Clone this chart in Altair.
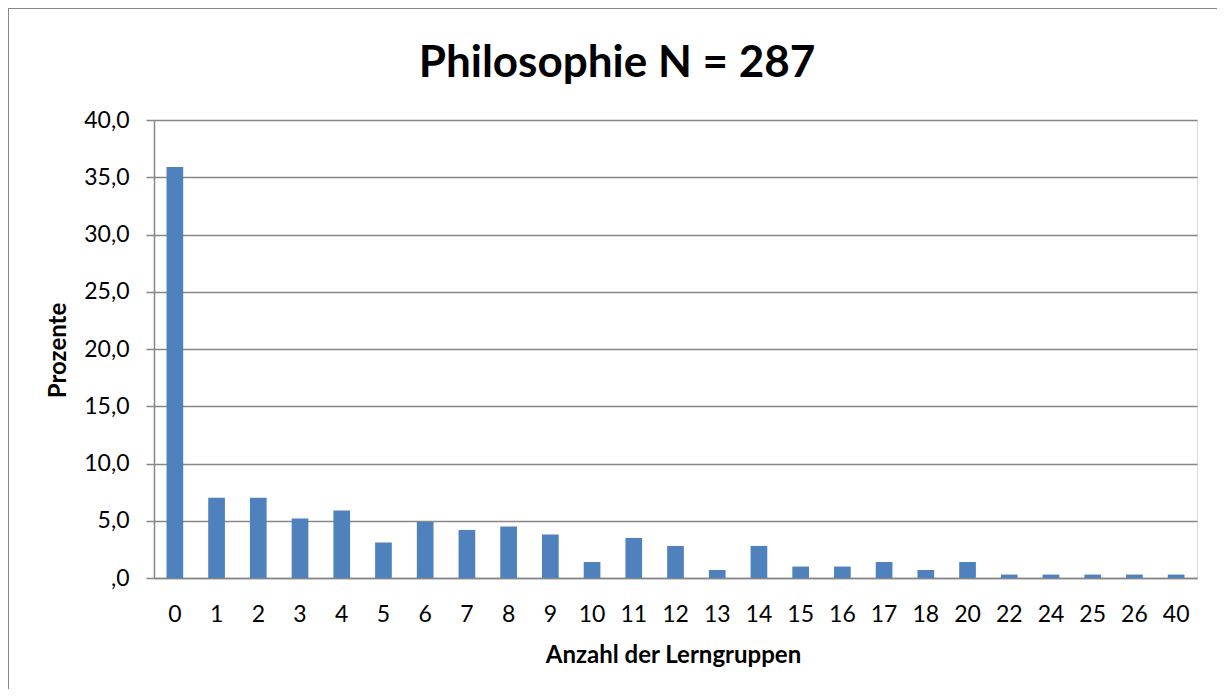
import altair as alt
import pandas as pd

categories = ["0", "1", "2", "3", "4", "5", "6", "7", "8", "9", "10", "11", "12",
              "13", "14", "15", "16", "17", "18", "20", "22", "24", "25", "26", "40"]
percent = [35.9, 7.0, 7.0, 5.2, 5.9, 3.1, 4.9, 4.2, 4.5, 3.8, 1.4, 3.5, 2.8,
           0.7, 2.8, 1.0, 1.0, 1.4, 0.7, 1.4, 0.3, 0.3, 0.3, 0.3, 0.3]
title_text = "Philosophie N = 287"
x_title = "Anzahl der Lerngruppen"
y_title = "Prozente"

df = pd.DataFrame({"k": categories, "p": percent})

FONT = "Lato"
GRAY = "#878787"
W, H = 1043, 458

bars = alt.Chart(df).mark_bar(color="#4F81BD").encode(
    x=alt.X("k:N", sort=categories,
            scale=alt.Scale(paddingInner=0.6, paddingOuter=0.3),
            axis=alt.Axis(title=x_title, labelAngle=0, ticks=False, grid=False,
                          domainColor=GRAY, domainWidth=1.5,
                          labelFont=FONT, labelFontSize=23, labelColor="#000",
                          labelPadding=25,
                          titleFont=FONT, titleFontSize=24, titleFontWeight="bold",
                          titleColor="#000", titleX=519, titleY=84,
                          titleAnchor="middle", titleAlign="center",
                          titleBaseline="alphabetic")),
    y=alt.Y("p:Q", scale=alt.Scale(domain=[0, 40], nice=False),
            axis=alt.Axis(title=y_title, values=[0, 5, 10, 15, 20, 25, 30, 35, 40],
                          labelExpr="datum.value == 0 ? ',0' : replace(format(datum.value, '.1f'), '.', ',')",
                          grid=True, gridColor=GRAY, gridWidth=1.5,
                          domainColor=GRAY, domainWidth=1.5,
                          tickColor=GRAY, tickWidth=1.5, tickSize=8,
                          labelFont=FONT, labelFontSize=23, labelColor="#000",
                          labelPadding=17,
                          titleFont=FONT, titleFontSize=24, titleFontWeight="bold",
                          titleColor="#000", titleX=-96, titleY=230,
                          titleAngle=270, titleAlign="center",
                          titleBaseline="middle")),
)

title = alt.Chart(alt.Data(values=[{"t": title_text}])).mark_text(
    font=FONT, fontSize=44, fontWeight="bold", color="#000",
    align="center", baseline="alphabetic"
).encode(text="t:N", x=alt.value(463), y=alt.value(-43))

left_border = alt.Chart(alt.Data(values=[{}])).mark_rule(
    color=GRAY, strokeWidth=2
).encode(x=alt.value(-146), y=alt.value(-112), y2=alt.value(H + 111))

top_border = alt.Chart(alt.Data(values=[{}])).mark_rule(
    color=GRAY, strokeWidth=2
).encode(y=alt.value(-112), x=alt.value(-146), x2=alt.value(W + 20))

chart = alt.layer(left_border, top_border, bars, title).properties(
    width=W, height=H,
    autosize=alt.AutoSizeParams(type="none"),
    padding={"left": 146, "top": 112, "right": 20, "bottom": 111},
).configure_view(stroke=None).configure(background="white")

chart.save("out.html", embed_options={"renderer": "svg", "actions": False})
